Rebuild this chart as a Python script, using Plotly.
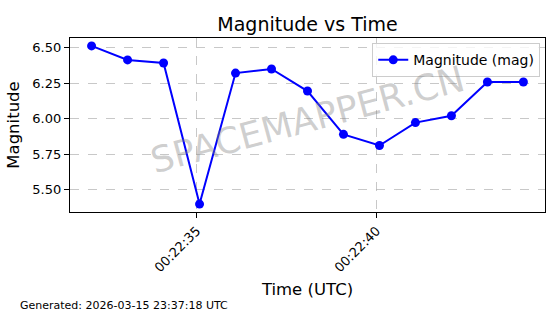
import pandas as pd
import plotly.graph_objects as go

# Data
times = ["00:22:32.08", "00:22:33.08", "00:22:34.08", "00:22:35.08", "00:22:36.08",
         "00:22:37.08", "00:22:38.08", "00:22:39.08", "00:22:40.08", "00:22:41.08",
         "00:22:42.08", "00:22:43.08", "00:22:44.08"]
magnitudes = [6.514, 6.415, 6.393, 5.396, 6.322, 6.351, 6.195, 5.889, 5.810, 5.972, 6.020, 6.259, 6.259]
date_str = "2026-03-15"
x_tick_labels = ["00:22:35", "00:22:40"]
y_ticks = [5.50, 5.75, 6.00, 6.25, 6.50]

t = pd.to_datetime([f"{date_str} {s}" for s in times])
span = t.max() - t.min()
xr = [t.min() - span * 0.05, t.max() + span * 0.05]
ymin, ymax = min(magnitudes), max(magnitudes)
yspan = ymax - ymin
yr = [ymin - 0.05 * yspan, ymax + 0.05 * yspan]

FONT = "DejaVu Sans"
W, H = 560, 314
ML, MR, MT, MB = 70, 15, 38, 102
PW, PH = W - ML - MR, H - MT - MB

fig = go.Figure()
fig.add_trace(go.Scatter(
    x=t, y=magnitudes, mode="lines+markers", name="Magnitude (mag)",
    line=dict(color="#0000ff", width=2),
    marker=dict(color="#0000ff", size=9),
))

axis_common = dict(
    showline=True, linecolor="black", linewidth=1.2, mirror=True,
    ticks="outside", ticklen=5, tickwidth=1, tickcolor="black",
    showgrid=True, gridcolor="rgba(176,176,176,0.7)", griddash="dash", gridwidth=1,
    zeroline=False, tickfont=dict(family=FONT, size=13, color="black"),
)

fig.update_layout(
    width=W, height=H,
    margin=dict(l=ML, r=MR, t=MT, b=MB),
    paper_bgcolor="white", plot_bgcolor="white",
    font=dict(family=FONT, color="black"),
    title=dict(text="Magnitude vs Time", x=(ML + PW / 2) / W, xanchor="center",
               y=1 - 24 / H, yanchor="middle",
               font=dict(family=FONT, size=19, color="black")),
    xaxis=dict(
        type="date", range=xr,
        tickvals=pd.to_datetime([f"{date_str} {s}" for s in x_tick_labels]),
        ticktext=x_tick_labels, tickangle=-45,
        title=dict(text="Time (UTC)", font=dict(family=FONT, size=16.5), standoff=9),
        **axis_common,
    ),
    yaxis=dict(
        range=yr, tickvals=y_ticks, ticktext=[f"{v:.2f}" for v in y_ticks],
        title=dict(text="Magnitude", font=dict(family=FONT, size=16.5), standoff=8),
        **axis_common,
    ),
    legend=dict(x=0.99, y=0.97, xanchor="right", yanchor="top",
                bgcolor="rgba(255,255,255,0.8)", bordercolor="#cccccc", borderwidth=1,
                font=dict(family=FONT, size=14, color="black")),
    showlegend=True,
)

fig.add_annotation(
    text="SPACEMAPPER.CN", xref="paper", yref="paper", x=0.5, y=0.53,
    showarrow=False, textangle=-15,
    font=dict(family=FONT, size=36, color="rgba(128,128,128,0.38)"),
)
fig.add_annotation(
    text="Generated: 2026-03-15 23:37:18 UTC", xref="paper", yref="paper",
    x=(18 - ML) / PW, y=(MT + PH - 305) / PH, xanchor="left", yanchor="middle",
    showarrow=False, font=dict(family=FONT, size=11, color="black"),
)

fig.write_html("out.html")
